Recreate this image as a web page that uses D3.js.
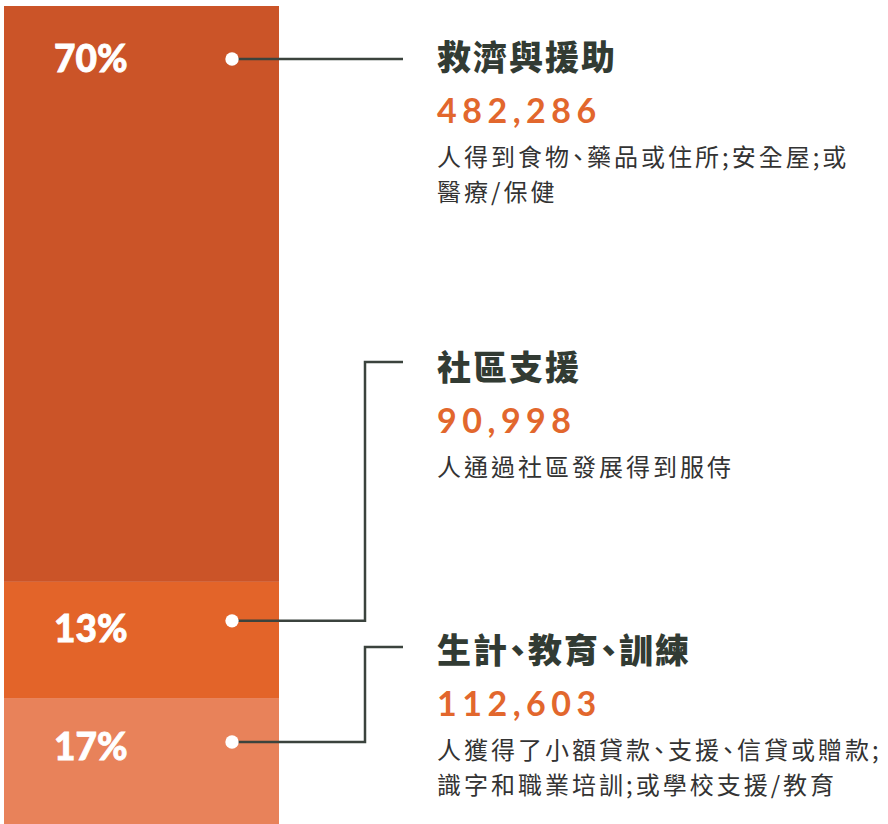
<!DOCTYPE html>
<html>
<head>
<meta charset="utf-8">
<script src="https://cdn.jsdelivr.net/npm/d3@7"></script>
<style>
  html, body { margin: 0; padding: 0; background: #ffffff; }
  svg { display: block; }
  .cjk { font-feature-settings: "halt" 1; }
</style>
</head>
<body>
<svg id="chart" width="888" height="824"></svg>
<script>
// ---- data ----
const categories = ["救濟與援助", "社區支援", "生計、教育、訓練"];
const shares = [70.4, 14.2, 15.4];          // segment heights as drawn (share of bar)
const pctLabels = ["70%", "13%", "17%"];
const counts = ["482,286", "90,998", "112,603"];
const descriptions = [
  ["人得到食物、藥品或住所;安全屋;或", "醫療/保健"],
  ["人通過社區發展得到服侍"],
  ["人獲得了小額貸款、支援、信貸或贈款;", "識字和職業培訓;或學校支援/教育"]
];

// ---- layout / style ----
const segColors = ["#cb5428", "#e36429", "#e8825a"];
const barX0 = 4, barX1 = 279, barTop = 6, barBottom = 824;
const pctBaselineOffset = [66, 60, 62];   // from top of segment
const dotOffset = [53, 39, 44];           // from top of segment
const dotX = 232, elbowX = 365, lineEndX = 403;
const labelLineY = [59, 362, 647];
const titleBaseline = [69.5, 379.5, 662.5];
const textX = 437;

const svg = d3.select("#chart");

const y = d3.scaleLinear().domain([0, d3.sum(shares)]).range([barTop, barBottom]);
const x = d3.scaleLinear().domain([0, 1]).range([barX0, barX1]);

let acc = 0;
const segs = shares.map((s, i) => {
  const d = { i, start: acc, end: acc + s };
  acc += s;
  return d;
});

// bar segments
svg.append("g").selectAll("rect").data(segs).join("rect")
  .attr("x", x(0))
  .attr("width", x(1) - x(0))
  .attr("y", d => y(d.start))
  .attr("height", d => y(d.end) - y(d.start))
  .attr("fill", d => segColors[d.i]);

// percentage labels
svg.append("g").selectAll("text").data(segs).join("text")
  .attr("x", 54)
  .attr("y", d => y(d.start) + pctBaselineOffset[d.i])
  .attr("fill", "#ffffff")
  .attr("font-family", "Lato, 'Open Sans', sans-serif")
  .attr("font-weight", 900)
  .attr("font-size", 37)
  .attr("stroke", "#ffffff")
  .attr("stroke-width", 0.8)
  .text(d => pctLabels[d.i]);

// connectors
const lineColor = "#3b433d";
svg.append("g").selectAll("path").data(segs).join("path")
  .attr("fill", "none")
  .attr("stroke", lineColor)
  .attr("stroke-width", 2.5)
  .attr("d", d => {
    const dy = y(d.start) + dotOffset[d.i];
    const ly = labelLineY[d.i];
    if (Math.abs(dy - ly) < 1) return `M${dotX},${dy}H${lineEndX}`;
    return `M${dotX},${dy}H${elbowX}V${ly}H${lineEndX}`;
  });

// dots
svg.append("g").selectAll("circle").data(segs).join("circle")
  .attr("cx", dotX)
  .attr("cy", d => y(d.start) + dotOffset[d.i])
  .attr("r", 6.7)
  .attr("fill", "#ffffff");

// text groups
const groups = svg.append("g").selectAll("g").data(categories).join("g");

groups.append("text")
  .attr("class", "cjk")
  .attr("x", textX)
  .attr("y", (d, i) => titleBaseline[i])
  .attr("fill", "#323b33")
  .attr("font-family", "'Noto Sans CJK TC', 'Noto Sans CJK SC', sans-serif")
  .attr("font-weight", 900)
  .attr("font-size", 34)
  .attr("letter-spacing", 2)
  .text(d => d);

groups.append("text")
  .attr("x", textX)
  .attr("y", (d, i) => titleBaseline[i] + 53)
  .attr("fill", "#e2672d")
  .attr("font-family", "Lato, 'Open Sans', sans-serif")
  .attr("font-weight", 700)
  .attr("font-size", 34)
  .attr("letter-spacing", 5.5)
  .text((d, i) => counts[i]);

groups.each(function(d, i) {
  d3.select(this).selectAll("text.desc").data(descriptions[i]).join("text")
    .attr("class", "desc cjk")
    .attr("x", textX)
    .attr("y", (t, j) => titleBaseline[i] + 96 + j * 35)
    .attr("fill", "#333333")
    .attr("font-family", "'Noto Sans CJK TC', 'Noto Sans CJK SC', sans-serif")
    .attr("font-weight", 400)
    .attr("font-size", 24)
    .attr("letter-spacing", 3)
    .text(t => t);
});
</script>
</body>
</html>
